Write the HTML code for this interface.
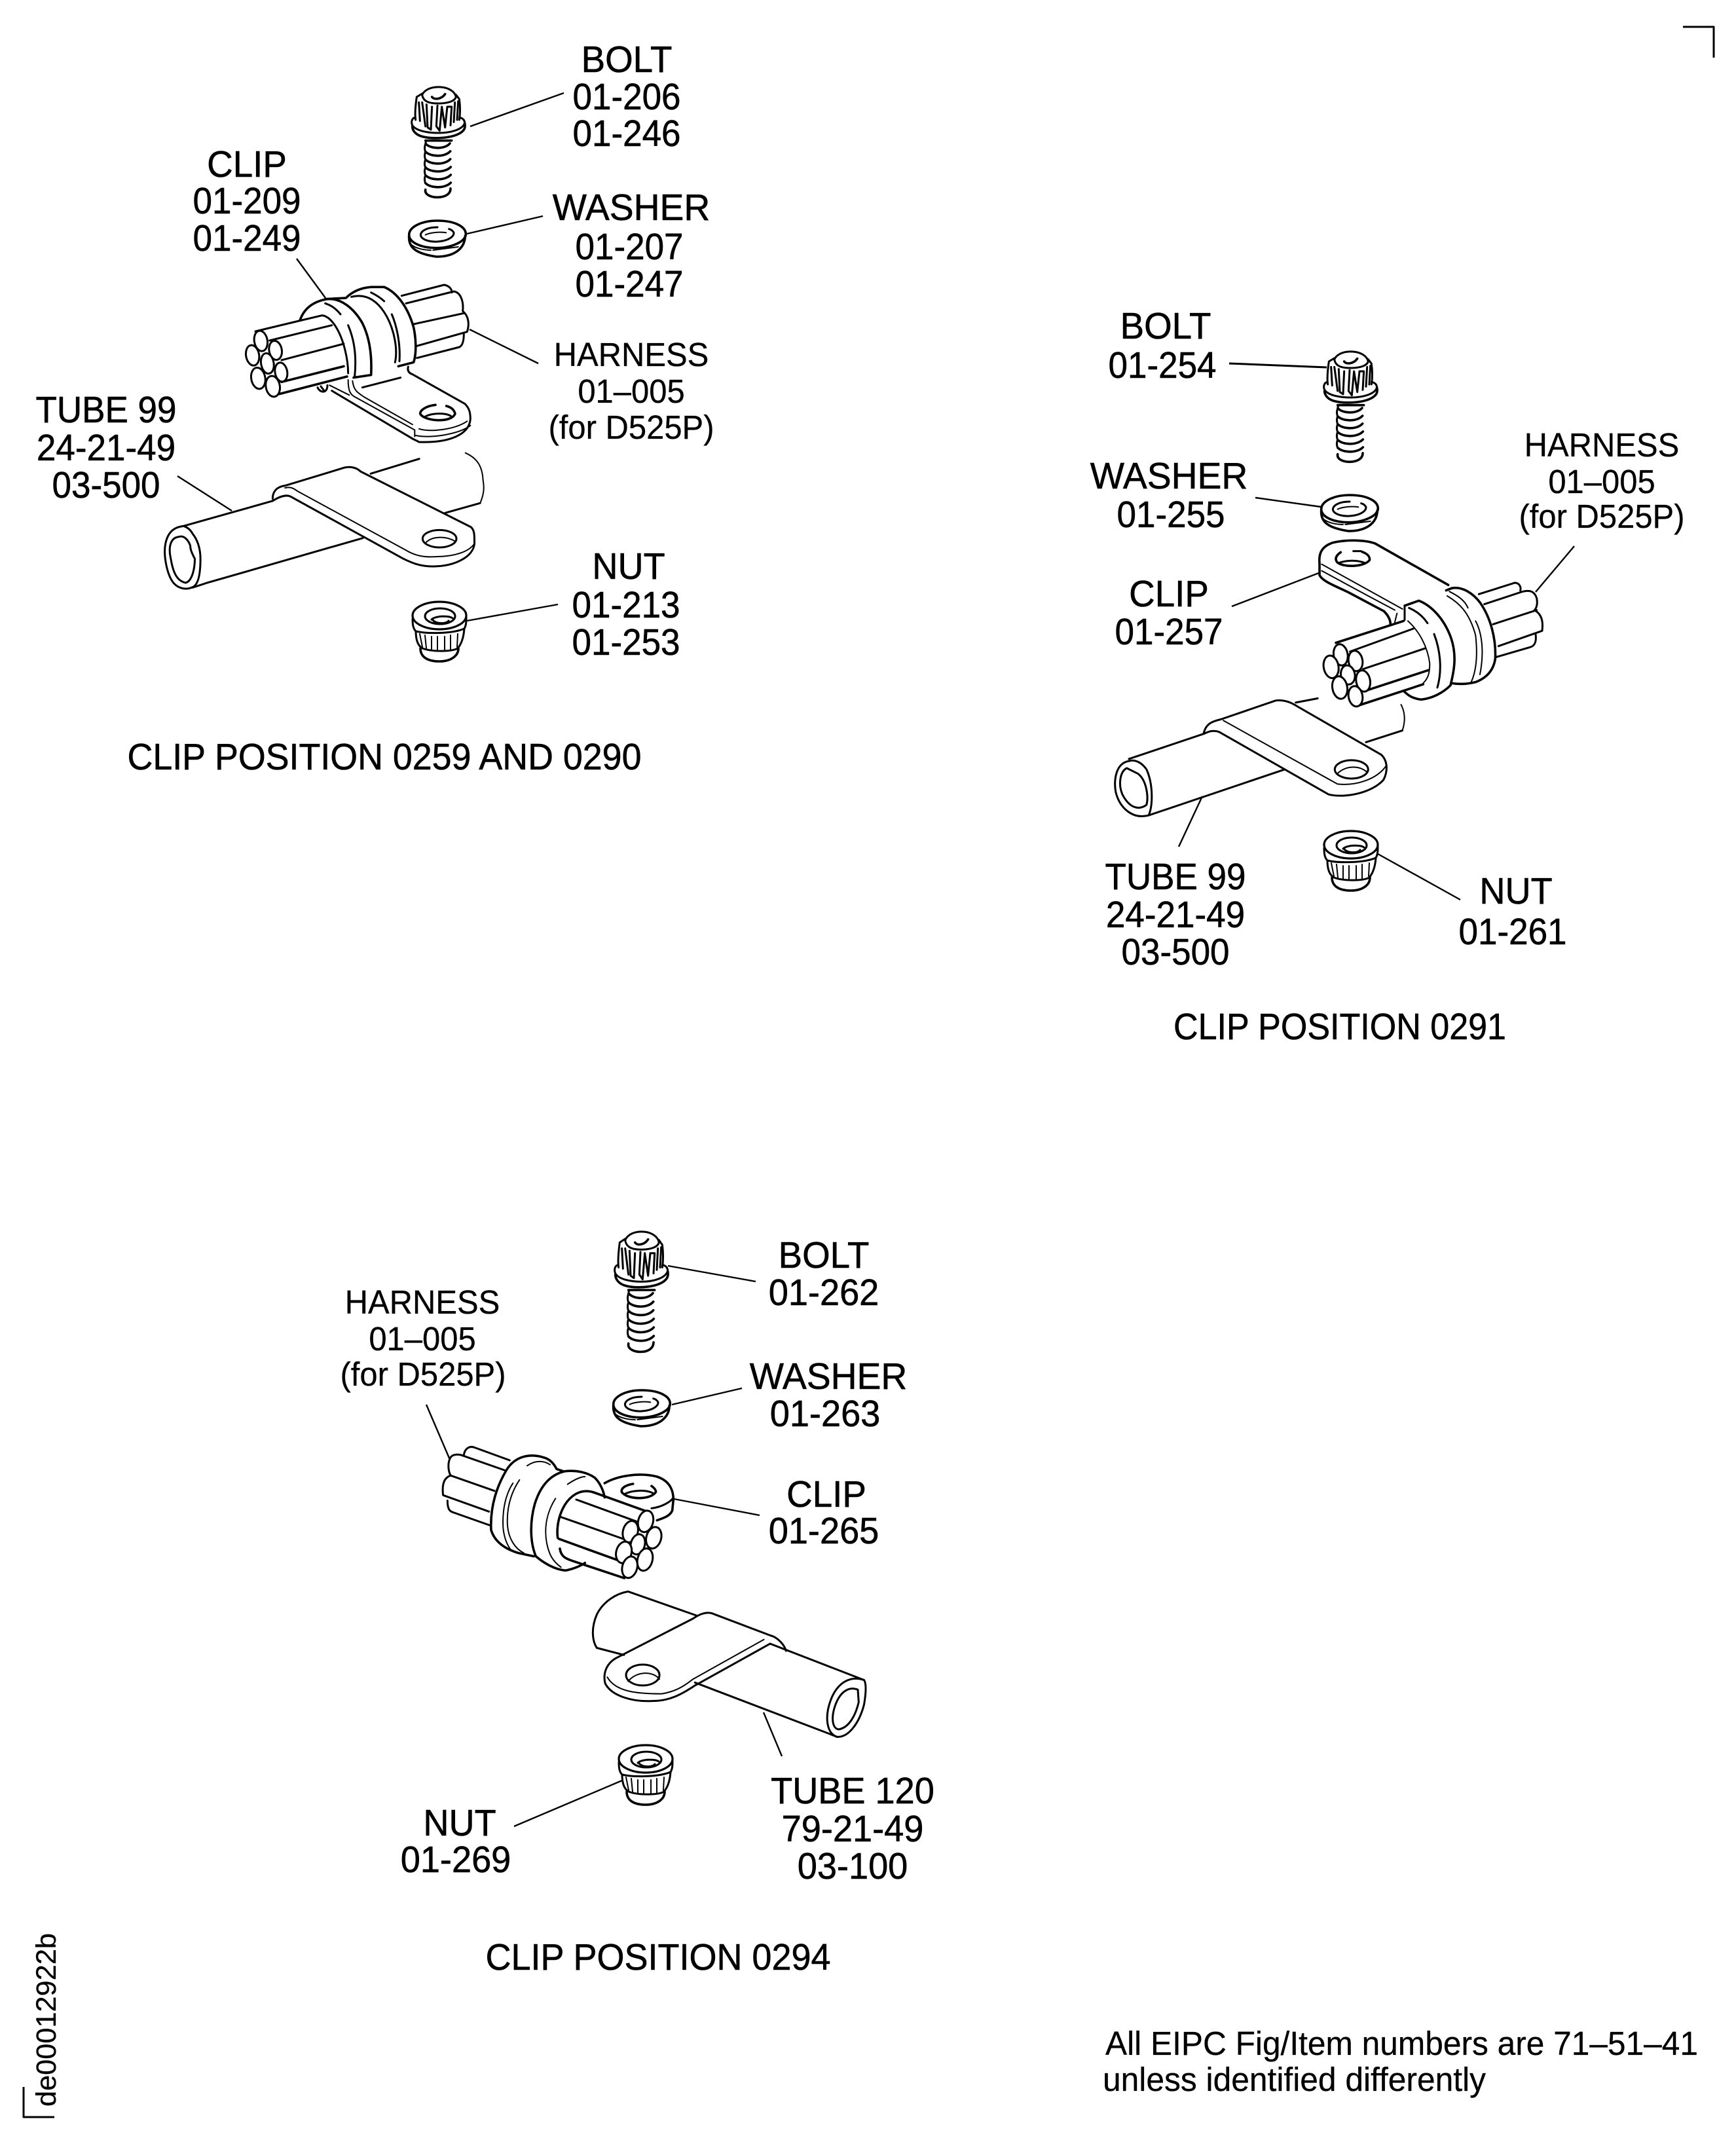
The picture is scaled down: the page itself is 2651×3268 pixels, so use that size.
<!DOCTYPE html>
<html><head><meta charset="utf-8"><title>Clip positions</title>
<style>
html,body{margin:0;padding:0;background:#fff}
svg{display:block}
text{font-family:"Liberation Sans",Arial,sans-serif;fill:#000;stroke:#000;stroke-width:.6;text-anchor:middle;font-size:57px}
.h{font-size:51px;stroke-width:.3}
.l{text-anchor:start}
path,ellipse,line{vector-effect:non-scaling-stroke}
.d{fill:none;stroke:#000;stroke-width:3;stroke-linecap:round;stroke-linejoin:round}
.w{fill:#fff;stroke:#000;stroke-width:3}
.s{stroke-width:2}
.b{stroke-width:3.6}
.ld{stroke:#000;stroke-width:2.4;fill:none}
</style></head><body>
<svg xmlns="http://www.w3.org/2000/svg" width="2651" height="3268" viewBox="0 0 2651 3268">
<rect width="2651" height="3268" fill="#fff"/>
<defs>
<g id="bolt" transform="scale(.3333) translate(-205,-40)" class="d">
<path d="M135,75C150,45 190,38 220,40C255,42 285,60 290,85"/>
<path d="M135,75C140,110 175,115 210,115C250,115 285,105 290,85"/>
<path class="b" d="M180,85C190,100 225,95 240,72"/>
<path d="M135,70L110,85C105,120 100,160 105,190M290,75L305,95C310,130 310,160 305,190"/>
<path d="M120,110L125,195M135,110L150,220M155,120L160,225L175,235L180,130M205,125L200,220L215,240L225,130L240,225L250,130L270,130L265,215M285,110L280,200M300,105L295,190"/>
<path d="M100,180C85,185 85,205 90,215C105,240 160,250 210,250C265,250 320,235 330,205C330,195 325,185 310,180"/>
<path class="b" d="M90,220C90,235 100,255 130,265C180,280 270,275 310,250C325,240 335,230 330,205"/>
<path class="b" d="M150,285L270,285"/>
<path class="b" d="M152,300C175,325 240,325 262,298M150,336C175,361 240,361 264,334M150,372C175,397 240,397 264,370M150,408C175,433 240,433 266,406M150,444C175,469 240,469 266,442M150,480C175,505 240,505 266,478"/>
<path d="M152,290L150,300C145,315 145,325 150,336C145,350 145,360 150,372C145,385 145,397 150,408C145,420 145,432 150,444C145,456 145,468 150,480"/>
<path class="b" d="M150,510C145,535 180,545 205,545C240,545 265,530 265,505"/>
</g>
<g id="washer" transform="scale(.3333) translate(-205,-710)" class="d">
<path class="b" d="M75,715C75,680 130,650 205,650C280,650 335,675 335,712C335,745 270,775 200,775C130,775 75,750 75,715Z"/>
<path class="b" d="M75,720C72,770 100,800 200,815C280,815 330,780 332,720"/>
<path class="s" d="M85,760C110,780 150,785 175,785M185,785L300,770"/>
<path d="M205,680C160,680 130,695 128,715C130,740 180,750 215,745C260,740 282,720 280,705C275,695 265,690 258,688"/>
<path class="s" d="M150,715C170,705 210,700 245,705"/>
</g>
<g id="nut" class="d">
<ellipse cx="0" cy="0" rx="41" ry="21" stroke-width="3.2"/>
<ellipse cx="1" cy="1" rx="23" ry="12"/>
<path d="M-12,6C-5,0 15,0 20,4M-10,7C-5,13 10,13 14,8"/>
<path d="M-41,5C-41,14 -40,20 -36,24C-20,28 20,28 38,20C41,15 41,10 41,2"/>
<path d="M-36,24C-36,36 -33,46 -26,50C-10,56 20,55 28,50C33,44 37,34 38,20"/>
<path class="s" d="M-30,28L-26,48M-22,30L-20,50M-12,32L-12,52M-3,32L-3,53M8,32L8,53M17,30L17,52M28,28L27,48"/>
<path class="b" d="M-29,50C-29,62 -20,70 0,70C17,70 29,62 29,50"/>
</g>
</defs>

<!-- corner marks -->
<path class="d" d="M2570,41L2617,41L2617,88" style="stroke-linecap:butt"/>
<path class="d" d="M36,3187L36,3233L83,3233" style="stroke-linecap:butt"/>
<text transform="translate(85,3217) rotate(-90)" class="l" style="font-size:43px;stroke-width:.3" textLength="265" lengthAdjust="spacingAndGlyphs">de00012922b</text>

<!-- ASSEMBLY 1 -->
<use href="#bolt" x="668" y="133"/>
<use href="#washer" x="668" y="357"/>
<use href="#nut" x="671" y="940"/>
<g class="d" transform="translate(340,400) scale(.3333)">
<path d="M150,318L350,270L455,245C500,250 540,320 560,400C570,440 575,480 575,510"/>
<path d="M215,360L500,290M270,450L555,375"/>
<path class="b" d="M270,550L555,478M260,605L570,525"/>
<path class="b" d="M355,265C375,210 420,180 480,170C540,165 600,210 640,280C670,340 685,420 680,518L600,530"/>
<path class="b" d="M470,170L565,165C585,145 620,120 680,115L740,115C800,140 850,210 875,300C890,370 885,430 875,460L805,478"/>
<path d="M590,160C650,145 700,170 740,230C780,290 805,390 790,460M775,240C800,300 815,380 810,455M575,290C600,350 615,420 605,525M470,190C500,200 520,215 540,240M680,140C700,150 725,165 740,180"/>
<path d="M820,155L1015,105C1040,110 1050,125 1050,140M840,190L1060,135C1090,140 1105,180 1100,225C1130,250 1130,290 1120,320L890,385M875,285L1105,235M1105,330C1105,370 1095,385 1085,390L890,440"/>
<path d="M850,480C845,500 855,510 870,515L1110,650C1130,670 1135,690 1135,720C1130,790 1040,830 900,825L870,810L500,590"/>
<path class="s" d="M595,545C600,590 620,600 650,620L870,745M575,540C575,590 585,605 600,615L880,770L880,800M900,765C950,780 1060,770 1120,730M885,795C950,810 1080,790 1135,750M490,565L580,610"/>
<path d="M640,575L815,530M435,575C445,600 480,605 480,565M450,570L465,590"/>
<path class="b" d="M975,655C930,660 905,680 905,695C920,730 1050,740 1065,695C1060,675 1045,665 1025,660"/>
<path d="M925,710C960,690 1030,690 1050,710"/>
<ellipse class="w" cx="175" cy="362" rx="30" ry="47" transform="rotate(-10 175 362)"/>
<ellipse class="w" cx="137" cy="428" rx="30" ry="47" transform="rotate(-10 137 428)"/>
<ellipse class="w" cx="242" cy="405" rx="29" ry="44" transform="rotate(-10 242 405)"/>
<ellipse class="w" cx="205" cy="465" rx="29" ry="47" transform="rotate(-10 205 465)"/>
<ellipse class="w" cx="268" cy="505" rx="28" ry="44" transform="rotate(-10 268 505)"/>
<ellipse class="w" cx="163" cy="533" rx="32" ry="49" transform="rotate(-10 163 533)"/>
<ellipse class="w" cx="230" cy="570" rx="32" ry="48" transform="rotate(-10 230 570)"/>
</g>
<g class="d" transform="translate(220,690) scale(.3444,.3333)">
<path d="M175,340C130,345 105,370 95,420C85,470 100,560 130,600C150,625 185,635 215,620C240,610 250,560 250,490C250,440 235,400 215,375C205,355 190,345 175,340Z"/>
<path d="M150,390C120,395 110,430 115,470C125,530 135,590 185,600C215,590 225,530 225,490C215,470 205,450 205,430C195,400 175,385 160,388Z"/>
<path d="M175,340L570,225M215,622L280,600L970,395"/>
<path d="M570,215C570,180 590,160 625,155L890,72C920,65 945,75 960,90L1450,345C1465,360 1465,380 1465,420C1460,480 1380,525 1280,525C1220,525 1180,505 1150,490L650,205C630,195 600,205 570,225"/>
<path class="s" d="M625,165C650,160 660,165 680,180L1160,450C1200,475 1240,485 1300,480C1370,480 1440,460 1465,420"/>
<ellipse cx="1310" cy="398" rx="75" ry="40"/>
<path class="s" d="M1250,415C1280,385 1340,385 1380,410"/>
<path d="M1005,100L1220,32"/>
<path class="s" d="M1425,5C1480,30 1500,70 1503,130C1510,170 1505,200 1490,235"/>
<path d="M1490,235L1335,280"/>
</g>
<g class="ld">
<line x1="718" y1="193" x2="861" y2="142"/>
<line x1="713" y1="357" x2="829" y2="330"/>
<line x1="453" y1="395" x2="497" y2="455"/>
<line x1="717" y1="503" x2="822" y2="555"/>
<line x1="271" y1="727" x2="354" y2="780"/>
<line x1="713" y1="948" x2="852" y2="923"/>
</g>
<text transform="translate(957,110) scale(.96,1)">BOLT</text>
<text transform="translate(957,167) scale(.93,1)">01-206</text>
<text transform="translate(957,223) scale(.93,1)">01-246</text>
<text transform="translate(377,270) scale(.96,1)">CLIP</text>
<text transform="translate(377,326) scale(.93,1)">01-209</text>
<text transform="translate(377,383) scale(.93,1)">01-249</text>
<text transform="translate(964,336) scale(.97,1)">WASHER</text>
<text transform="translate(961,396) scale(.93,1)">01-207</text>
<text transform="translate(961,453) scale(.93,1)">01-247</text>
<text class="h" transform="translate(964,559) scale(.96,1)">HARNESS</text>
<text class="h" transform="translate(964,615) scale(.96,1)">01–005</text>
<text class="h" transform="translate(964,670) scale(.96,1)">(for D525P)</text>
<text transform="translate(162,645) scale(.93,1)">TUBE 99</text>
<text transform="translate(162,703) scale(.93,1)">24-21-49</text>
<text transform="translate(162,760) scale(.93,1)">03-500</text>
<text transform="translate(960,884) scale(.95,1)">NUT</text>
<text transform="translate(956,943) scale(.93,1)">01-213</text>
<text transform="translate(956,1000) scale(.93,1)">01-253</text>
<text x="587" y="1175" textLength="785" lengthAdjust="spacingAndGlyphs">CLIP POSITION 0259 AND 0290</text>

<!-- ASSEMBLY 2 -->
<use href="#bolt" x="2061" y="537"/>
<use href="#washer" x="2061" y="776"/>
<use href="#nut" x="2063" y="1290"/>
<g class="d" transform="translate(1960,800) scale(.3333)">
<path class="b" d="M755,280L420,90C380,75 300,70 230,85C180,100 160,130 165,180L165,235C180,265 240,285 300,315L460,400C480,420 490,440 490,460"/>
<path class="s" d="M175,185L545,390M175,215C250,255 330,300 510,395M520,410L510,450"/>
<path class="b" d="M262,130C240,145 235,160 245,175C270,200 370,200 395,165C395,145 380,135 360,128"/>
<path d="M320,125L355,125M250,180C290,165 340,165 375,180"/>
<path class="b" d="M555,375L620,352C680,375 740,440 770,530C795,610 780,680 765,740C730,775 680,800 630,805C590,800 570,785 550,765"/>
<path d="M555,375L555,440M575,385C610,400 640,425 660,455M690,505C715,570 730,660 705,750"/>
<path class="s" d="M570,445C620,490 660,560 670,640C670,690 660,710 640,730"/>
<path class="b" d="M745,305L770,295C820,285 870,320 900,360C950,430 975,530 970,620C960,680 920,710 880,725C840,735 800,735 770,730"/>
<path class="s" d="M750,330C800,360 850,400 880,510C890,600 885,670 860,725M880,445C910,500 920,590 900,690M760,310C800,330 830,350 845,385"/>
<path d="M895,322L1060,270C1080,270 1090,290 1085,305M920,368L1090,312C1130,300 1150,310 1160,340C1165,365 1160,385 1150,395C1185,415 1190,450 1185,490L985,560M960,460L1160,395M1155,505C1160,540 1150,560 1130,565L975,610"/>
<path class="b" d="M240,545L550,445M375,765L665,670M350,830L640,735"/>
<path d="M305,585L595,480M365,665L650,570"/>
<ellipse class="w" cx="262" cy="600" rx="32" ry="49" transform="rotate(-10 262 600)"/>
<ellipse class="w" cx="218" cy="655" rx="34" ry="52" transform="rotate(-10 218 655)"/>
<ellipse class="w" cx="330" cy="628" rx="32" ry="47" transform="rotate(-10 330 628)"/>
<ellipse class="w" cx="295" cy="692" rx="32" ry="44" transform="rotate(-10 295 692)"/>
<ellipse class="w" cx="365" cy="720" rx="32" ry="49" transform="rotate(-10 365 720)"/>
<ellipse class="w" cx="258" cy="750" rx="34" ry="52" transform="rotate(-10 258 750)"/>
<ellipse class="w" cx="330" cy="790" rx="32" ry="47" transform="rotate(-10 330 790)"/>
</g>
<g class="d" transform="translate(1600,400) scale(.6702,.6378)">
<path d="M185,1195C155,1200 150,1240 155,1270C165,1310 195,1335 230,1325C240,1300 240,1250 225,1215C215,1200 200,1190 185,1195Z"/>
<path d="M180,1212C165,1220 160,1250 170,1275C185,1305 205,1315 225,1300C230,1280 225,1240 205,1225Z"/>
<path d="M185,1190L355,1130M230,1325L540,1215"/>
<path d="M355,1130C360,1105 375,1100 395,1095L520,1050C540,1048 555,1055 570,1065L760,1180C775,1195 775,1220 765,1240C740,1270 680,1285 640,1275L390,1125C375,1120 365,1125 355,1130"/>
<path class="s" d="M400,1098L660,1250C700,1255 750,1240 772,1205"/>
<ellipse cx="692" cy="1215" rx="38" ry="22"/>
<path class="s" d="M660,1225C680,1205 710,1205 728,1222"/>
<path d="M565,1055L615,1045M725,1150L808,1122"/>
<path class="s" d="M805,1060C815,1080 815,1100 808,1122"/>
</g>
<g class="ld">
<line x1="1877" y1="555" x2="2026" y2="561" stroke-width="3"/>
<line x1="1917" y1="760" x2="2017" y2="774"/>
<line x1="1881" y1="926" x2="2014" y2="875"/>
<line x1="2404" y1="834" x2="2345" y2="904"/>
<line x1="1800" y1="1293" x2="1836" y2="1216"/>
<line x1="2104" y1="1304" x2="2230" y2="1374"/>
</g>
<text transform="translate(1780,517) scale(.96,1)">BOLT</text>
<text transform="translate(1775,577) scale(.93,1)">01-254</text>
<text transform="translate(1785,746) scale(.97,1)">WASHER</text>
<text transform="translate(1788,805) scale(.93,1)">01-255</text>
<text transform="translate(1785,926) scale(.96,1)">CLIP</text>
<text transform="translate(1785,984) scale(.93,1)">01-257</text>
<text class="h" transform="translate(2446,697) scale(.96,1)">HARNESS</text>
<text class="h" transform="translate(2446,753) scale(.96,1)">01–005</text>
<text class="h" transform="translate(2446,806) scale(.96,1)">(for D525P)</text>
<text transform="translate(1795,1358) scale(.93,1)">TUBE 99</text>
<text transform="translate(1795,1416) scale(.93,1)">24-21-49</text>
<text transform="translate(1795,1473) scale(.93,1)">03-500</text>
<text transform="translate(2315,1380) scale(.95,1)">NUT</text>
<text transform="translate(2310,1442) scale(.93,1)">01-261</text>
<text x="2046" y="1587" textLength="508" lengthAdjust="spacingAndGlyphs">CLIP POSITION 0291</text>

<!-- ASSEMBLY 3 -->
<use href="#bolt" transform="translate(978,1881) scale(1,1.09)"/>
<use href="#washer" x="980" y="2143"/>
<use href="#nut" x="986" y="2686"/>
<g class="d" transform="translate(660,2180) scale(.3333)">
<path d="M80,145C85,130 100,120 130,125M145,125C150,95 170,85 190,90L355,150M130,125L330,195M80,145C70,170 75,205 85,220C50,230 45,270 50,310L260,385M85,220L285,290M70,335C70,375 80,385 100,390L270,450"/>
<path class="b" d="M270,470C265,370 290,280 340,195C380,130 450,115 520,140C545,150 560,170 570,190L600,200M270,470C285,520 330,555 395,575L465,590"/>
<path class="s" d="M435,175C470,150 510,150 540,170M370,255C340,300 320,370 325,460C330,510 345,540 360,560M400,240C360,300 340,370 345,450C350,510 380,555 420,575"/>
<path class="b" d="M475,590C450,530 445,440 470,350C495,270 540,215 610,200C660,195 710,205 745,230C770,255 785,290 790,320M475,590C510,620 560,650 610,655C640,650 680,635 700,620"/>
<path class="s" d="M620,260C650,240 680,225 700,225M565,325C530,380 510,450 525,530C535,580 550,610 590,640"/>
<path class="b" d="M575,505C565,430 600,320 680,295C700,290 720,290 740,297L985,385M580,510L870,615M585,555C590,590 610,600 640,610L880,690"/>
<path d="M660,330L935,430M590,410L875,510"/>
<path class="b" d="M790,255C850,220 950,205 1030,225C1090,245 1105,290 1105,330L1100,380C1090,405 1060,415 1030,425"/>
<path d="M1005,370C1050,365 1095,340 1105,320"/>
<path class="b" d="M920,258C880,265 865,280 868,295C890,330 1000,335 1025,295C1025,285 1015,275 1005,268"/>
<path d="M880,305C920,285 980,285 1010,300"/>
<ellipse class="w" cx="978" cy="430" rx="34" ry="50" transform="rotate(15 978 430)"/>
<ellipse class="w" cx="908" cy="477" rx="34" ry="50" transform="rotate(15 908 477)"/>
<ellipse class="w" cx="1015" cy="505" rx="34" ry="50" transform="rotate(15 1015 505)"/>
<ellipse class="w" cx="942" cy="535" rx="32" ry="47" transform="rotate(15 942 535)"/>
<ellipse class="w" cx="878" cy="572" rx="35" ry="50" transform="rotate(15 878 572)"/>
<ellipse class="w" cx="975" cy="605" rx="34" ry="52" transform="rotate(15 975 605)"/>
<ellipse class="w" cx="905" cy="640" rx="34" ry="50" transform="rotate(15 905 640)"/>
</g>
<g class="d" transform="translate(500,1850) scale(.6378)">
<path d="M1285,1122C1250,1110 1220,1130 1205,1170C1190,1210 1195,1250 1220,1258C1250,1260 1275,1220 1285,1180C1290,1150 1290,1130 1285,1122Z"/>
<path d="M1270,1145C1245,1135 1225,1155 1215,1185C1205,1215 1210,1240 1225,1240C1250,1235 1265,1205 1272,1175Z"/>
<path d="M1060,1035L1285,1122M880,1128L1200,1250L1220,1258"/>
<path d="M885,968L720,910C690,915 660,935 645,965C630,1000 635,1030 645,1045L710,1062"/>
<path d="M920,962L1060,1015C1080,1020 1095,1040 1098,1052"/>
<path d="M920,962C905,958 890,965 875,975L690,1070C665,1085 660,1110 665,1130C680,1160 730,1175 780,1172C820,1172 850,1155 880,1135L1060,1035"/>
<path class="s" d="M670,1115C690,1150 740,1155 800,1155C830,1150 850,1140 875,1120L1045,1025"/>
<ellipse cx="755" cy="1110" rx="40" ry="25"/>
<path class="s" d="M720,1125C740,1100 780,1100 795,1120"/>
</g>
<g class="ld">
<line x1="1020" y1="1933" x2="1154" y2="1957"/>
<line x1="1026" y1="2145" x2="1133" y2="2120"/>
<line x1="651" y1="2145" x2="687" y2="2229"/>
<line x1="1029" y1="2289" x2="1160" y2="2314"/>
<line x1="1166" y1="2615" x2="1194" y2="2682"/>
<line x1="950" y1="2719" x2="785" y2="2789"/>
</g>
<text transform="translate(1258,1936) scale(.96,1)">BOLT</text>
<text transform="translate(1258,1993) scale(.95,1)">01-262</text>
<text transform="translate(1265,2121) scale(.97,1)">WASHER</text>
<text transform="translate(1260,2178) scale(.95,1)">01-263</text>
<text transform="translate(1262,2301) scale(.96,1)">CLIP</text>
<text transform="translate(1258,2357) scale(.95,1)">01-265</text>
<text class="h" transform="translate(645,2006) scale(.96,1)">HARNESS</text>
<text class="h" transform="translate(645,2062) scale(.96,1)">01–005</text>
<text class="h" transform="translate(646,2116) scale(.96,1)">(for D525P)</text>
<text transform="translate(1302,2754) scale(.95,1)">TUBE 120</text>
<text transform="translate(1302,2812) scale(.95,1)">79-21-49</text>
<text transform="translate(1302,2869) scale(.95,1)">03-100</text>
<text transform="translate(702,2803) scale(.95,1)">NUT</text>
<text transform="translate(696,2859) scale(.95,1)">01-269</text>
<text x="1005" y="3008" textLength="527" lengthAdjust="spacingAndGlyphs">CLIP POSITION 0294</text>

<text class="h l" x="1688" y="3138" textLength="905" lengthAdjust="spacingAndGlyphs">All EIPC Fig/Item numbers are 71–51–41</text>
<text class="h l" x="1684" y="3193" textLength="585" lengthAdjust="spacingAndGlyphs">unless identified differently</text>
</svg>
</body></html>
